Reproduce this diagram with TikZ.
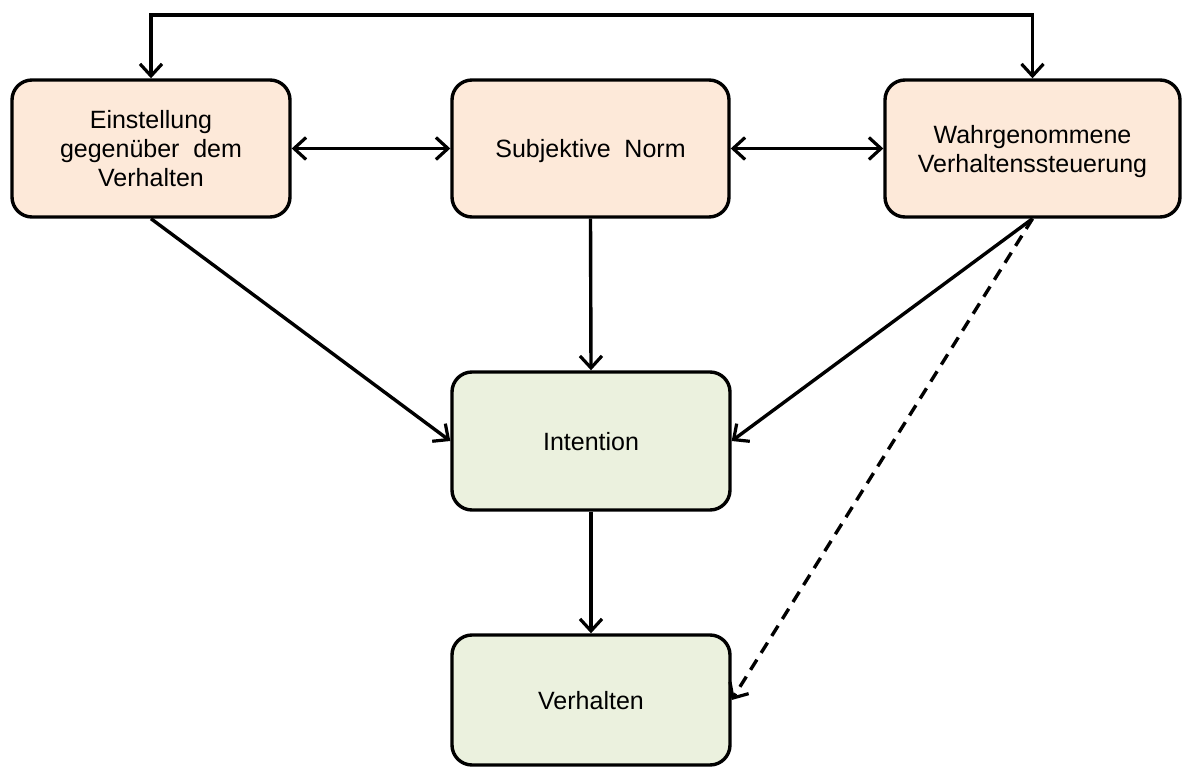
\documentclass[tikz,border=0pt]{standalone}
\usepackage{fontspec}
\setmainfont{Liberation Sans}
\usetikzlibrary{arrows.meta}
\definecolor{peach}{HTML}{FDE9D9}
\definecolor{sage}{HTML}{EBF1DE}
\begin{document}
\begin{tikzpicture}[x=1pt,y=-1pt,
  box/.style={draw=black, line width=3.4pt, rounded corners=20pt, align=center,
    inner sep=0pt, text depth=0pt, font=\fontsize{25}{29}\selectfont},
  upper/.style={box, fill=peach, minimum height=137pt},
  lower/.style={box, fill=sage, minimum width=278pt},
  arr/.style={line width=3.4pt, -{Straight Barb[length=12pt,width=22pt,line width=3.2pt]}},
  darr/.style={line width=3.4pt, {Straight Barb[length=12pt,width=22pt,line width=3.2pt]}-{Straight Barb[length=12pt,width=22pt,line width=3.2pt]}}
]
\useasboundingbox (0,0) rectangle (1183,767);

% attitude, norm and control boxes
\node[upper, minimum width=278pt] (att) at (151,148.5) {Einstellung\\gegenüber\hspace{0.55em}dem\\Verhalten};
\node[upper, minimum width=277pt] (norm) at (590.5,148.5) {Subjektive\hspace{0.55em}Norm};
\node[upper, minimum width=295pt] (pbc) at (1032.5,148.5) {Wahrgenommene\\Verhaltenssteuerung};

% intention and behaviour
\node[lower, minimum height=138pt] (int) at (591,441) {Intention};
\node[lower, minimum height=130pt] (beh) at (591,700) {Verhalten};

% loop across the top
\coordinate (top) at (0,15);
\draw[darr] (att.north) -- (att.north |- top) -- (pbc.north |- top) -- (pbc.north);

% links between the upper boxes
\draw[darr] (att.east) -- (norm.west);
\draw[darr] (norm.east) -- (pbc.west);

% paths into intention
\draw[arr] (att.south) -- (int.west);
\draw[arr] (norm.south) -- (int.north);
\draw[arr] (pbc.south) -- (int.east);

% intention to behaviour, control to behaviour
\draw[arr] (int.south) -- (beh.north);
\draw[arr, dash pattern=on 12pt off 8pt] (pbc.south) -- (beh.east);
\end{tikzpicture}
\end{document}
